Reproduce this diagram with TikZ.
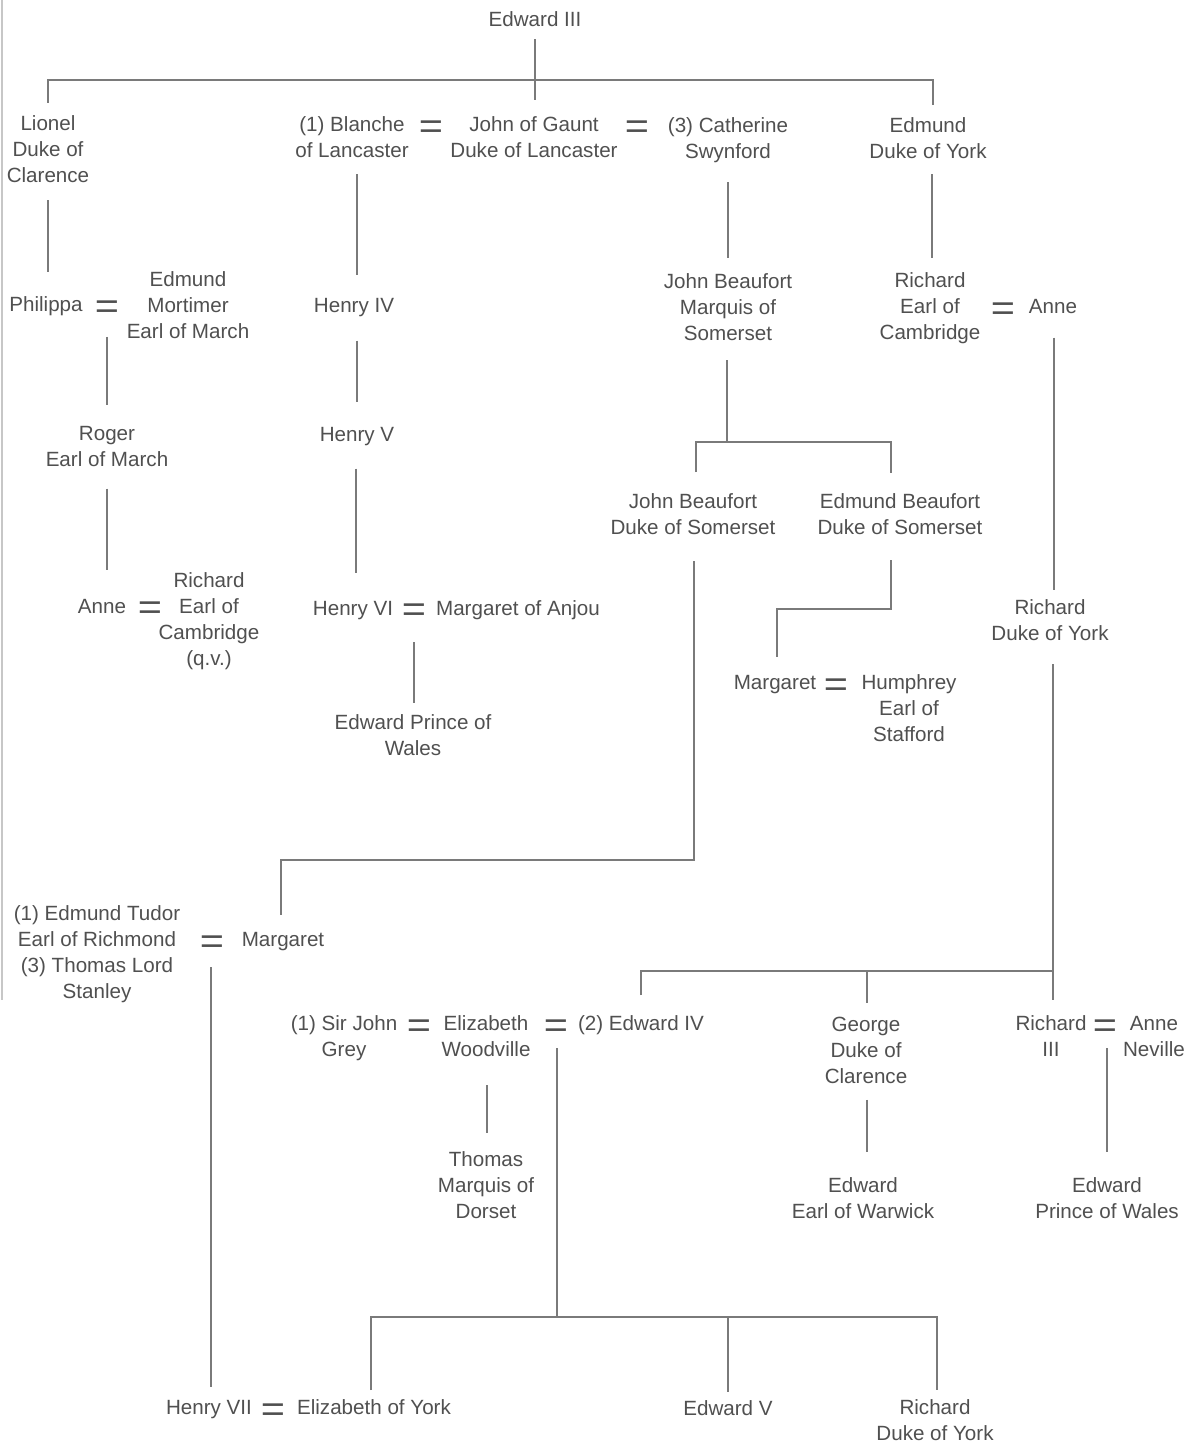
\documentclass[tikz,border=0pt]{standalone}
\usepackage{fontspec}
\setmainfont{Liberation Sans}
\usetikzlibrary{calc}
\definecolor{txt}{HTML}{505050}
\definecolor{ln}{HTML}{7A7A7A}
\newcommand{\wedsign}{\scalebox{1.15}[1]{=}}
\begin{document}
\begin{tikzpicture}[x=0.5pt,y=-0.5pt,
  pers/.style={anchor=north, inner sep=0pt, align=center, font=\fontsize{10.3}{13}\selectfont, text=txt},
  wed/.style={inner sep=0pt, font=\fontsize{18}{18}\selectfont, text=txt, text height=12.2pt, text depth=0pt},
  conn/.style={draw=ln, line width=0.7pt}]
\fill[white] (0,0) rectangle (1186,1443);
\useasboundingbox (0,0) rectangle (1186,1443);
\draw[black!22, line width=0.8pt] (2,0) -- (2,1000);

% generation 1
\node[pers] (edw3) at (535,11.5) {Edward III};
\node[pers] (lionel) at (48,115.5) {Lionel\\Duke of\\Clarence};
\node[pers] (blanche) at (352,116.5) {(1) Blanche\\of Lancaster};
\node[wed] (eqA) at (431,126) {\wedsign};
\node[pers] (gaunt) at (534,116.5) {John of Gaunt\\Duke of Lancaster};
\node[wed] (eqB) at (637,126) {\wedsign};
\node[pers] (cath) at (728,117.5) {(3) Catherine\\Swynford};
\node[pers] (edmund) at (928,117.5) {Edmund\\Duke of York};

% generation 2
\node[pers] (philippa) at (46,296.5) {Philippa};
\node[wed] (eqC) at (107,306) {\wedsign};
\node[pers] (mortimer) at (188,271.5) {Edmund\\Mortimer\\Earl of March};
\node[pers] (henry4) at (354,297.5) {Henry IV};
\node[pers] (jbm) at (728,273.5) {John Beaufort\\Marquis of\\Somerset};
\node[pers] (rcamb) at (930,272.5) {Richard\\Earl of\\Cambridge};
\node[wed] (eqD) at (1003,308) {\wedsign};
\node[pers] (anne1) at (1053,298.5) {Anne};

% generation 3
\node[pers] (roger) at (107,425.5) {Roger\\Earl of March};
\node[pers] (henry5) at (357,426.5) {Henry V};
\node[pers] (jbs) at (693,493.5) {John Beaufort\\Duke of Somerset};
\node[pers] (ebs) at (900,493.5) {Edmund Beaufort\\Duke of Somerset};

% generation 4
\node[pers] (anne2) at (102,598.5) {Anne};
\node[wed] (eqE) at (150,607) {\wedsign};
\node[pers] (rcamb2) at (209,572.5) {Richard\\Earl of\\Cambridge\\(q.v.)};
\node[pers] (henry6) at (353,600.5) {Henry VI};
\node[wed] (eqF) at (414,609) {\wedsign};
\node[pers] (anjou) at (518,600.5) {Margaret of Anjou};
\node[pers] (rdy) at (1050,599.5) {Richard\\Duke of York};
\node[pers] (epw1) at (413,714.5) {Edward Prince of\\Wales};
\node[pers] (marg1) at (775,674.5) {Margaret};
\node[wed] (eqG) at (836,684) {\wedsign};
\node[pers] (humph) at (909,674.5) {Humphrey\\Earl of\\Stafford};

% generation 5
\node[pers] (tudor) at (97,905.5) {(1) Edmund Tudor\\Earl of Richmond\\(3) Thomas Lord\\Stanley};
\node[wed] (eqH) at (212,941) {\wedsign};
\node[pers] (marg2) at (283,931.5) {Margaret};
\node[pers] (grey) at (344,1015.5) {(1) Sir John\\Grey};
\node[wed] (eqI) at (419,1025) {\wedsign};
\node[pers] (eliz) at (486,1015.5) {Elizabeth\\Woodville};
\node[wed] (eqJ) at (556,1025) {\wedsign};
\node[pers] (edw4) at (641,1015.5) {(2) Edward IV};
\node[pers] (george) at (866,1016.5) {George\\Duke of\\Clarence};
\node[pers] (r3) at (1051,1015.5) {Richard\\III};
\node[wed] (eqK) at (1105,1025) {\wedsign};
\node[pers] (neville) at (1154,1015.5) {Anne\\Neville};
\node[pers] (dorset) at (486,1151.5) {Thomas\\Marquis of\\Dorset};
\node[pers] (warwick) at (863,1177.5) {Edward\\Earl of Warwick};
\node[pers] (epw2) at (1107,1177.5) {Edward\\Prince of Wales};

% generation 6
\node[pers] (henry7) at (209,1399.5) {Henry VII};
\node[wed] (eqL) at (273,1409) {\wedsign};
\node[pers] (elizy) at (374,1399.5) {Elizabeth of York};
\node[pers] (edw5) at (728,1400.5) {Edward V};
\node[pers] (rdy2) at (935,1399.5) {Richard\\Duke of York};

% junctions
\coordinate (b1) at (535,80);
\coordinate (b2) at (727,442);
\coordinate (b3) at (891,609);
\coordinate (b4) at (694,860);
\coordinate (b5) at (1053,971);
\coordinate (b6) at (557,1317);

% connectors
\draw[conn] ($(edw3.south)+(0,12)$) -- ($(edw3.south |- gaunt.north)+(0,-16.5)$);
\draw[conn] ($(lionel.north)+(0,-12.5)$) |- (b1) -| ($(edmund.north)+(5,-12.5)$);
\draw[conn] ($(lionel.south)+(0,17)$) -- ($(lionel.south |- philippa.north)+(0,-24.5)$);
\draw[conn] ($(blanche.south)+(5,16)$) -- ($(henry4.north)+(3,-22.5)$);
\draw[conn] ($(cath.south)+(0,19)$) -- ($(jbm.north)+(0,-15.5)$);
\draw[conn] ($(edmund.south)+(4,15)$) -- ($(rcamb.north)+(2,-14.5)$);
\draw[conn] ($(eqC)+(0,31)$) -- ($(roger.north)+(0,-20.5)$);
\draw[conn] ($(henry4.south)+(3,24)$) -- ($(henry5.north)+(0,-24.5)$);
\draw[conn] ($(jbm.south)+(-1,19)$) -- (b2);
\draw[conn] ($(jbs.north)+(3,-21.5)$) |- (b2) -| ($(ebs.north)+(-9,-20.5)$);
\draw[conn] ($(roger.south)+(0,22)$) -- ($(roger.south |- anne2.north)+(0,-28.5)$);
\draw[conn] ($(henry5.south)+(-1,23)$) -- ($(henry6.north)+(3,-27.5)$);
\draw[conn] ($(anne1.south)+(1,24)$) -- ($(rdy.north)+(4,-9.5)$);
\draw[conn] ($(eqF)+(0,33)$) -- ($(epw1.north)+(1,-11.5)$);
\draw[conn] ($(ebs.south)+(-9,25)$) -- (b3) -| ($(marg1.north)+(2,-17.5)$);
\draw[conn] ($(jbs.south)+(1,26)$) -- (b4) -| ($(marg2.north)+(-2,-16.5)$);
\draw[conn] ($(rdy.south)+(3,23)$) -- (b5);
\draw[conn] ($(edw4.north)+(0,-20.5)$) |- (b5) -- ($(r3.north)+(2,-15.5)$);
\draw[conn] ($(b5 -| george.north)+(1,0)$) -- ($(george.north)+(1,-13.5)$);
\draw[conn] ($(eqH)+(-1,26)$) -- ($(henry7.north)+(2,-12.5)$);
\draw[conn] ($(eliz.south)+(1,28)$) -- ($(dorset.north)+(1,-18.5)$);
\draw[conn] ($(eqJ)+(1,23)$) -- (b6);
\draw[conn] ($(elizy.north)+(-3,-9.5)$) |- (b6) -| ($(rdy2.north)+(2,-9.5)$);
\draw[conn] (b6 -| edw5.north) -- ($(edw5.north)+(0,-8.5)$);
\draw[conn] ($(george.south)+(1,16)$) -- ($(warwick.north)+(4,-25.5)$);
\draw[conn] ($(eqK)+(2,23)$) -- ($(epw2.north)+(0,-25.5)$);
\end{tikzpicture}
\end{document}
